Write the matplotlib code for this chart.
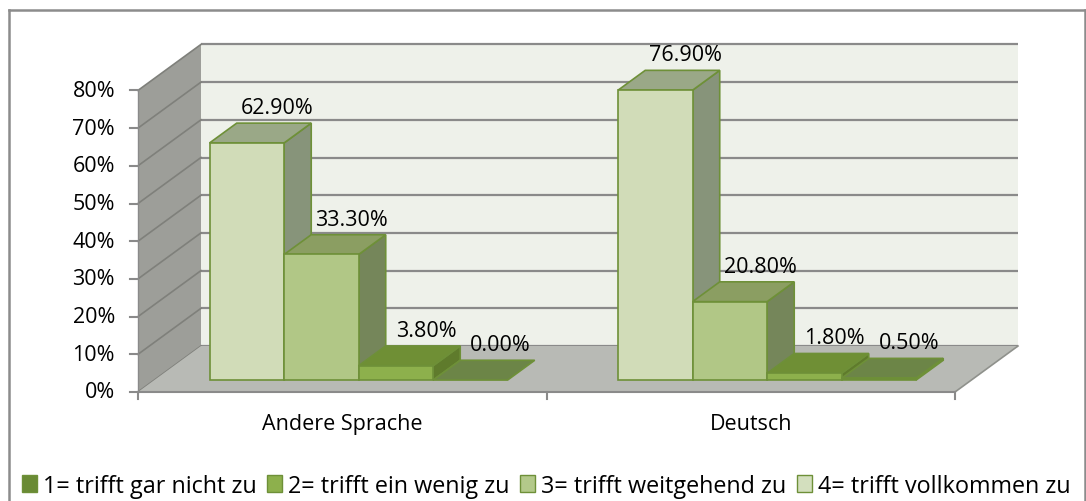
import matplotlib
matplotlib.use("Agg")
import matplotlib.pyplot as plt
from matplotlib.patches import Polygon, Patch
from matplotlib.lines import Line2D

# ---------------- data ----------------
categories = ["Andere Sprache", "Deutsch"]
series_labels = ["1= trifft gar nicht zu", "2= trifft ein wenig zu",
                 "3= trifft weitgehend zu", "4= trifft vollkommen zu"]
s1 = [0.0, 0.5]
s2 = [3.8, 1.8]
s3 = [33.3, 20.8]
s4 = [62.9, 76.9]
values = [s1, s2, s3, s4]
yticks = [0, 10, 20, 30, 40, 50, 60, 70, 80]
ytick_labels = ["0%", "10%", "20%", "30%", "40%", "50%", "60%", "70%", "80%"]

# ---------------- style ----------------
front_c = ["#6a8b35", "#8db04c", "#b1c786", "#d1dcb8"]
top_c = ["#6c8547", "#6f8f35", "#8b9e62", "#9aa887"]
side_c = ["#5a7429", "#5f7b2c", "#75865a", "#87947a"]
edge_c = "#6e9038"
legend_c = ["#6a8b35", "#8db04c", "#b3c98a", "#d3dfbe"]

plt.rcParams["font.family"] = ["Open Sans", "DejaVu Sans"]
FS = 15.5

W, H = 1086, 502
fig = plt.figure(figsize=(W / 100, H / 100), dpi=100)
ax = fig.add_axes([0, 0, 1, 1])
ax.axis("off")

# pixel layout of the front plane
X0, CW = 138.0, 408.5      # x pixel of category 0 edge, pixels per category
Y0, PY = 393.0, 3.77       # y pixel of 0 %, pixels per percent
ax.set_xlim(-X0 / CW, (W - X0) / CW)
ax.set_ylim((Y0 - H) / PY, Y0 / PY)

DX = 63.0 / CW             # full depth offset in data units
DY = 46.0 / PY
YMAX = 80
NC = len(categories)


def pt(x, y, d):
    return (x + d * DX, y + d * DY)


wall_c = "#eef1ea"
lwall_c = "#9d9e99"
floor_c = "#b8bab5"
grid_c = "#8a8a8a"

# back wall
ax.add_patch(Polygon([pt(0, 0, 1), pt(NC, 0, 1), pt(NC, YMAX, 1), pt(0, YMAX, 1)],
                     closed=True, facecolor=wall_c, edgecolor="none", zorder=1))
# left wall
ax.add_patch(Polygon([pt(0, 0, 0), pt(0, YMAX, 0), pt(0, YMAX, 1), pt(0, 0, 1)],
                     closed=True, facecolor=lwall_c, edgecolor="none", zorder=1))
# grid lines
for t in yticks:
    xa, ya = pt(0, t, 1)
    xb, yb = pt(NC, t, 1)
    ax.plot([xa, xb], [ya, yb], color=grid_c, lw=1.6, zorder=2, solid_capstyle="butt")
    xc, yc = pt(0, t, 0)
    ax.plot([xc, xa], [yc, ya], color="#7f807b", lw=1.2, zorder=2)
# floor
ax.add_patch(Polygon([pt(0, 0, 0), pt(NC, 0, 0), pt(NC, 0, 1), pt(0, 0, 1)],
                     closed=True, facecolor=floor_c, edgecolor="none", zorder=3))
xa, ya = pt(NC, 0, 0)
xb, yb = pt(NC, 0, 1)
ax.plot([xa, xb], [ya, yb], color="#8f918c", lw=1.2, zorder=3)

# axes lines and ticks
ax.plot([0, NC], [0, 0], color="#8a8a8a", lw=1.5, zorder=4)
ax.plot([0, 0], [0, YMAX], color="#8a8a8a", lw=1.0, zorder=4)
tick_len_x = 8.0 / CW
tick_len_y = 7.0 / PY
for t, lab in zip(yticks, ytick_labels):
    ax.plot([-tick_len_x, 0], [t, t], color="#8a8a8a", lw=1.5, zorder=4)
    ax.text(-tick_len_x - 15.0 / CW, t, lab,
            ha="right", va="center", fontsize=FS, color="black")
for i in range(NC + 1):
    ax.plot([i, i], [0, -tick_len_y], color="#8a8a8a", lw=1.5, zorder=4)
for i, c in enumerate(categories):
    ax.text(i + 0.5, -32.0 / PY, c, ha="center", va="center", fontsize=FS)

# bars
BW = 74.5 / CW
F0, F1 = 0.26, 0.69
order = [3, 2, 1, 0]   # left to right: series 4, 3, 2, 1
for ci in range(NC):
    left0 = ci + 0.5 - 2 * BW
    for k, si in enumerate(order):
        v = values[si][ci]
        xl = left0 + k * BW
        xr = xl + BW
        z = 5 + k
        if v > 0:
            side = [pt(xr, 0, F0), pt(xr, 0, F1), pt(xr, v, F1), pt(xr, v, F0)]
            ax.add_patch(Polygon(side, closed=True, facecolor=side_c[si],
                                 edgecolor=edge_c, lw=1.2, zorder=z))
        top = [pt(xl, v, F0), pt(xr, v, F0), pt(xr, v, F1), pt(xl, v, F1)]
        ax.add_patch(Polygon(top, closed=True, facecolor=top_c[si],
                             edgecolor=edge_c, lw=1.2, zorder=z))
        if v > 0:
            front = [pt(xl, 0, F0), pt(xr, 0, F0), pt(xr, v, F0), pt(xl, v, F0)]
            ax.add_patch(Polygon(front, closed=True, facecolor=front_c[si],
                                 edgecolor=edge_c, lw=1.2, zorder=z))
        lx, ly = pt((xl + xr) / 2, v, F1)
        ax.annotate(f"{v:.2f}%", (lx + 3.0 / CW, ly), xytext=(0, 10),
                    textcoords="offset pixels", ha="center", va="baseline",
                    fontsize=FS, zorder=20)

# chart border
fig.add_artist(Line2D([8.5 / W, 1085.5 / W], [1 - 10.5 / H, 1 - 10.5 / H],
                      color="#8c8c8c", lw=1.8, transform=fig.transFigure))
fig.add_artist(Line2D([8.5 / W, 8.5 / W], [0, 1 - 10.5 / H],
                      color="#8c8c8c", lw=1.8, transform=fig.transFigure))
fig.add_artist(Line2D([1085.3 / W, 1085.3 / W], [0, 1 - 10.5 / H],
                      color="#8c8c8c", lw=1.8, transform=fig.transFigure))

# legend
handles = [Patch(facecolor=legend_c[i], edgecolor=edge_c, lw=1.0, label=series_labels[i])
           for i in range(4)]
fig.legend(handles=handles, loc="center", bbox_to_anchor=(546 / W, 1 - 487 / H),
           ncol=4, frameon=False, fontsize=16.8, handlelength=0.65, handleheight=0.75,
           handletextpad=0.25, columnspacing=0.45, borderaxespad=0)

fig.savefig("out.png", dpi=100)
